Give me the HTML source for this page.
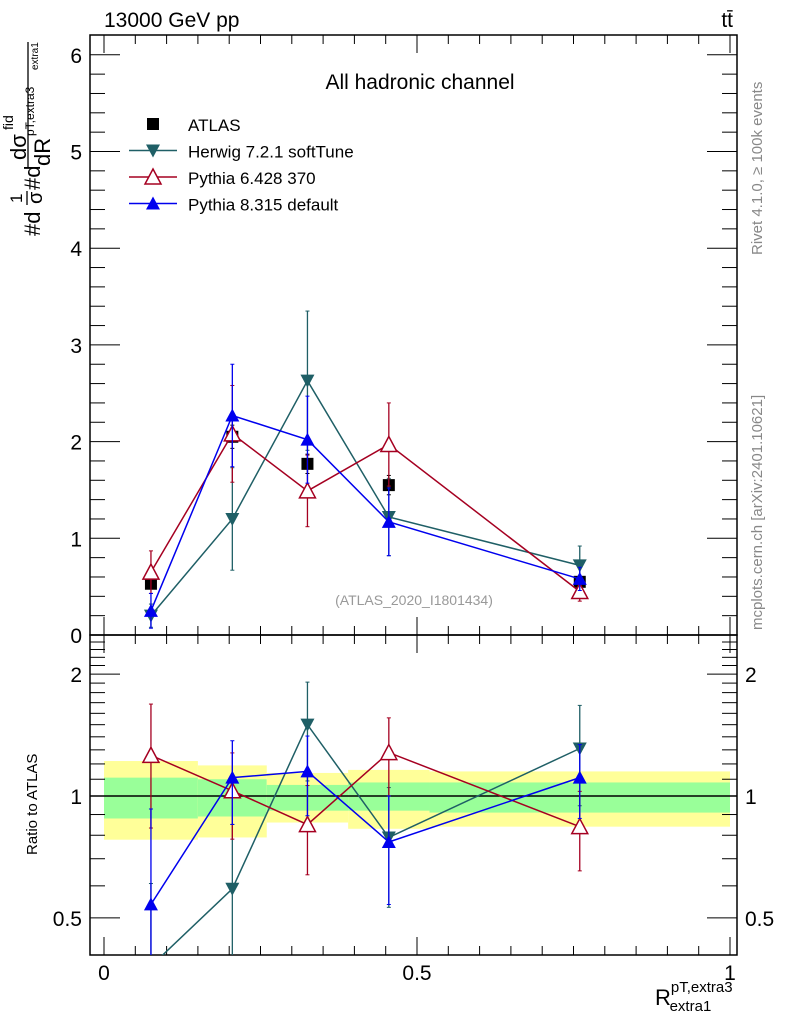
<!DOCTYPE html>
<html><head><meta charset="utf-8"><style>
body{margin:0;background:#fff;width:786px;height:1024px;overflow:hidden}
svg{font-family:"Liberation Sans",sans-serif;display:block}
</style></head><body>
<svg id="c" width="786" height="1024"></svg>
<script>
const xs=[0.075,0.205,0.325,0.455,0.76];
const atlas=[0.53,2.05,1.77,1.55,0.55];
const atlasErr=[0.05,0.12,0.1,0.1,0.04];
const herwig=[0.2,1.2,2.63,1.22,0.72];
const herwigErr=[0.12,0.53,0.72,0.4,0.2];
const herwigRatio=[0.38,0.59,1.50,0.79,1.31];
const py6=[0.65,2.08,1.49,1.97,0.45];
const py6Err=[0.22,0.5,0.37,0.43,0.1];
const py6Ratio=[1.26,1.03,0.85,1.28,0.84];
const py8=[0.25,2.27,2.02,1.17,0.58];
const py8Err=[0.18,0.53,0.45,0.35,0.12];
const py8Ratio=[0.54,1.11,1.15,0.77,1.11];
const binEdges=[0,0.15,0.26,0.39,0.52,1.0];
const yelLo=[0.78,0.79,0.86,0.83,0.84];
const yelHi=[1.22,1.19,1.14,1.16,1.15];
const grnLo=[0.88,0.89,0.92,0.92,0.91];
const grnHi=[1.11,1.10,1.065,1.08,1.08];
const mainTicks=[0,1,2,3,4,5,6];
const ratioTicks=[0.5,1,2];
const xTicks=[0,0.5,1];

const NS="http://www.w3.org/2000/svg",S=document.getElementById('c');
function el(t,a,p){const e=document.createElementNS(NS,t);for(const k in a)e.setAttribute(k,a[k]);(p||S).appendChild(e);return e;}
const L=90,R=737,T=35,M=635,B=955;
const X=v=>104+v*626;
const Y=v=>635-v*96.7;
const YR=v=>796-Math.log10(v)*405;
const clipM=el('clipPath',{id:'cm'});el('rect',{x:L,y:T,width:R-L,height:M-T},clipM);
const clipR=el('clipPath',{id:'cr'});el('rect',{x:L,y:M,width:R-L,height:B-M},clipR);

for(let i=0;i<5;i++){
 const b=el('rect',{x:X(binEdges[i]),y:YR(yelHi[i]),width:X(binEdges[i+1])-X(binEdges[i]),height:YR(yelLo[i])-YR(yelHi[i]),fill:'#ffff99'});
 
 const g=el('rect',{x:X(binEdges[i]),y:YR(grnHi[i]),width:X(binEdges[i+1])-X(binEdges[i]),height:YR(grnLo[i])-YR(grnHi[i]),fill:'#99ff99'});
 
}
el('line',{x1:L,x2:R,y1:YR(1),y2:YR(1),stroke:'#000','stroke-width':1.5});

el('rect',{x:L,y:T,width:R-L,height:M-T,fill:'none',stroke:'#000','stroke-width':1.5});
el('rect',{x:L,y:M,width:R-L,height:B-M,fill:'none',stroke:'#000','stroke-width':1.5});
for(let v=0;v<=6.2;v+=0.2){const big=Math.abs(v-Math.round(v))<1e-6;const len=big?30:15;
 el('line',{x1:L,x2:L+len,y1:Y(v),y2:Y(v),stroke:'#000'});el('line',{x1:R,x2:R-len,y1:Y(v),y2:Y(v),stroke:'#000'});}
mainTicks.forEach(v=>{const t=el('text',{x:82,y:Y(v)+8,'text-anchor':'end','font-size':21});t.textContent=v;
 });
[0.5,0.6,0.7,0.8,0.9,1,2].forEach(v=>{const big=[0.5,1,2].includes(v);const len=big?30:15;
 el('line',{x1:L,x2:L+len,y1:YR(v),y2:YR(v),stroke:'#000'});el('line',{x1:R,x2:R-len,y1:YR(v),y2:YR(v),stroke:'#000'});});
for(let v=1.1;v<2.5;v+=0.1){if(Math.abs(v-2)<0.01)continue;
 el('line',{x1:L,x2:L+15,y1:YR(v),y2:YR(v),stroke:'#000'});el('line',{x1:R,x2:R-15,y1:YR(v),y2:YR(v),stroke:'#000'});}
ratioTicks.forEach(v=>{const t=el('text',{x:82,y:YR(v)+8,'text-anchor':'end','font-size':21});t.textContent=v;
 
 const t2=el('text',{x:745,y:YR(v)+8,'font-size':21});t2.textContent=v;
 });
for(let v=0;v<=1.0001;v+=0.05){const big=Math.abs(v*2-Math.round(v*2))<1e-6;const len=big?18:9;
 [T,M].forEach(y0=>el('line',{x1:X(v),x2:X(v),y1:y0,y2:y0+len,stroke:'#000'}));
 [M,B].forEach(y0=>el('line',{x1:X(v),x2:X(v),y1:y0,y2:y0-len,stroke:'#000'}));}
xTicks.forEach(v=>{const t=el('text',{x:X(v),y:980,'text-anchor':'middle','font-size':21});t.textContent=v;
 });

function marker(g,kind,x,y,col){
 if(kind=='sq')el('rect',{x:x-6,y:y-6,width:12,height:12,fill:col},g);
 else if(kind=='down')el('polygon',{points:`${x-7},${y-6} ${x+7},${y-6} ${x},${y+7}`,fill:col},g);
 else if(kind=='up')el('polygon',{points:`${x-7},${y+6} ${x+7},${y+6} ${x},${y-7}`,fill:col},g);
 else el('polygon',{points:`${x-8},${y+7} ${x+8},${y+7} ${x},${y-8}`,fill:'#fff',stroke:col,'stroke-width':1.5},g);
}
function series(name,vals,errs,rv,col,kind,line){
 const gm=el('g',{'clip-path':'url(#cm)'});
 const gr=el('g',{'clip-path':'url(#cr)'});
 if(line){el('polyline',{points:xs.map((x,i)=>X(x)+','+Y(vals[i])).join(' '),fill:'none',stroke:col,'stroke-width':1.5},gm);
  el('polyline',{points:xs.map((x,i)=>X(x)+','+YR(rv[i])).join(' '),fill:'none',stroke:col,'stroke-width':1.5},gr);}
 xs.forEach((x,i)=>{
  const lo=vals[i]-errs[i],hi=vals[i]+errs[i];
  el('line',{x1:X(x),x2:X(x),y1:Y(lo),y2:Y(hi),stroke:col,'stroke-width':1.3},gm);
  [lo,hi].forEach(v=>el('line',{x1:X(x)-2,x2:X(x)+2,y1:Y(v),y2:Y(v),stroke:col},gm));
  marker(gm,kind,X(x),Y(vals[i]),col);
  if(!line)return;
  const rel=errs[i]/vals[i];
  const rl=Math.max(rv[i]*(1-rel),0.01),rh=rv[i]*(1+rel);
  el('line',{x1:X(x),x2:X(x),y1:YR(rl),y2:YR(rh),stroke:col,'stroke-width':1.3},gr);
  [rl,rh].forEach(v=>el('line',{x1:X(x)-2,x2:X(x)+2,y1:YR(v),y2:YR(v),stroke:col},gr));
  marker(gr,kind,X(x),YR(rv[i]),col);
 });
}
series('atlas',atlas,atlasErr,null,'#000','sq',false);
series('herwig',herwig,herwigErr,herwigRatio,'#1f5f66','down',true);
series('pythia6',py6,py6Err,py6Ratio,'#a50021','open',true);
series('pythia8',py8,py8Err,py8Ratio,'#0000ee','up',true);

const leg=[['ATLAS','#000','sq',false],['Herwig 7.2.1 softTune','#1f5f66','down',true],['Pythia 6.428 370','#a50021','open',true],['Pythia 8.315 default','#0000ee','up',true]];
leg.forEach((l,i)=>{const y=124+i*26.5;const g=el('g',{});
 if(l[3])el('line',{x1:129,x2:177,y1:y,y2:y,stroke:l[1],'stroke-width':1.5},g);
 marker(g,l[2],153,y,l[1]);
 const t=el('text',{x:188,y:y+7,'font-size':17},g);t.textContent=l[0];});

function txt(s,a,name,p){const t=el('text',a,p);t.textContent=s;return t;}
txt('13000 GeV pp',{x:104,y:27,'font-size':21},'energy-label');
txt('tt̄',{x:733,y:27,'font-size':21,'text-anchor':'end'},'process-label');
txt('All hadronic channel',{x:420,y:89,'font-size':21,'text-anchor':'middle'},'plot-title');
txt('(ATLAS_2020_I1801434)',{x:414,y:605,'font-size':14,fill:'#999','text-anchor':'middle'},'analysis-label');
txt('Rivet 4.1.0, ≥ 100k events',{x:0,y:0,'font-size':15,fill:'#888',transform:'translate(762,255) rotate(-90)'},'rivet-label');
txt('mcplots.cern.ch [arXiv:2401.10621]',{x:0,y:0,'font-size':15,fill:'#888',transform:'translate(762,630) rotate(-90)'},'mcplots-label');
txt('Ratio to ATLAS',{x:0,y:0,'font-size':15,transform:'translate(37,855) rotate(-90)'},'ratio-y-title');
const yg=el('g',{transform:'rotate(-90)'});
txt('#d',{x:-236,y:40,'font-size':22},'y-title-part',yg);
txt('1',{x:-203,y:22,'font-size':17},'y-title-part',yg);
el('line',{x1:-205,x2:-191,y1:27,y2:27,stroke:'#000','stroke-width':1.3},yg);
txt('σ',{x:-204,y:42,'font-size':20},'y-title-part',yg);
txt('#d',{x:-190,y:40,'font-size':22},'y-title-part',yg);
el('line',{x1:-167,x2:-42,y1:28,y2:28,stroke:'#000','stroke-width':1.3},yg);
txt('dσ',{x:-160,y:26,'font-size':22},'y-title-part',yg);
txt('fid',{x:-130,y:13,'font-size':14},'y-title-part',yg);
txt('dR',{x:-166,y:50,'font-size':22},'y-title-part',yg);
txt('pT,extra3',{x:-136,y:34,'font-size':12},'y-title-part',yg);
txt('extra1',{x:-70,y:38,'font-size':10},'y-title-part',yg);
const xt=el('text',{x:655,y:1005,'font-size':22});
xt.innerHTML='R<tspan dy="-13" font-size="15">pT,extra3</tspan><tspan dx="-63" dy="19" font-size="15">extra1</tspan>';
</script>
</body></html>
